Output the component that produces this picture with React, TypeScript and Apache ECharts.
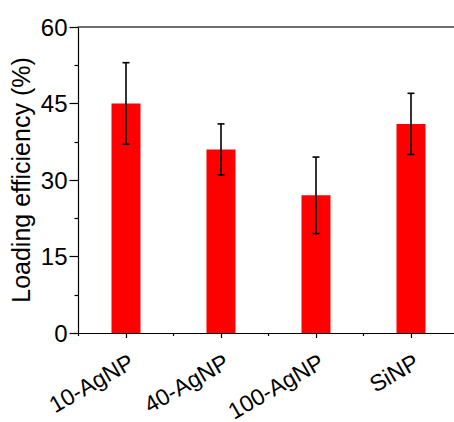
import React, { useEffect, useRef } from "react";
import * as echarts from "echarts";

const categories = ["10-AgNP", "40-AgNP", "100-AgNP", "SiNP"];
const values = [45, 36, 27, 41];
const errors = [8, 5, 7.5, 6];
const yTicks = { min: 0, max: 60, interval: 15 };

const FONT = "'Liberation Sans', Arial, sans-serif";

export default function App() {
  const ref = useRef<HTMLDivElement>(null);
  useEffect(() => {
    if (!ref.current) return;
    document.body.style.margin = "0";
    document.body.style.overflow = "hidden";
    const chart = echarts.init(ref.current, null, { renderer: "svg" });
    const errData = values.map((v, i) => [i, v - errors[i], v + errors[i]]);
    chart.setOption({
      animation: false,
      backgroundColor: "#ffffff",
      textStyle: { fontFamily: FONT },
      grid: {
        left: 78.5,
        top: 27,
        width: 380,
        bottom: 89,
        containLabel: false,
        outerBoundsMode: "none",
      },
      xAxis: [
        {
          type: "category",
          data: categories,
          position: "bottom",
          axisLine: { show: true, lineStyle: { color: "#000", width: 1.2 } },
          axisTick: { show: true, alignWithLabel: true, length: 5, lineStyle: { color: "#000", width: 1.2 } },
          axisLabel: {
            show: true,
            rotate: 30,
            margin: 17,
            align: "right",
            verticalAlign: "top",
            color: "#000",
            fontSize: 23,
            fontFamily: FONT,
            interval: 0,
          },
          splitLine: { show: false },
        },
        {
          type: "category",
          data: categories,
          position: "bottom",
          axisLine: { show: false },
          axisTick: { show: true, alignWithLabel: false, length: 3, lineStyle: { color: "#000", width: 1.2 } },
          axisLabel: { show: false },
          splitLine: { show: false },
        },
        {
          type: "category",
          data: categories,
          position: "top",
          axisLine: { show: true, lineStyle: { color: "#707070", width: 2 } },
          axisTick: { show: false },
          axisLabel: { show: false },
          splitLine: { show: false },
        },
      ],
      yAxis: {
        type: "value",
        min: yTicks.min,
        max: yTicks.max,
        interval: yTicks.interval,
        name: "Loading efficiency (%)",
        nameLocation: "middle",
        nameGap: 45,
        nameMoveOverlap: false,
        nameTextStyle: { fontSize: 25, color: "#000", fontFamily: FONT },
        axisLine: { show: true, lineStyle: { color: "#000", width: 1.2 } },
        axisTick: { show: true, inside: false, length: 9, lineStyle: { color: "#000", width: 1.2 } },
        minorTick: { show: true, splitNumber: 2, length: 4, lineStyle: { color: "#000", width: 1.2 } },
        axisLabel: { color: "#000", fontSize: 24, margin: 11, fontFamily: FONT },
        splitLine: { show: false },
        minorSplitLine: { show: false },
      },
      series: [
        {
          type: "bar",
          xAxisIndex: 0,
          data: values,
          barWidth: 29,
          itemStyle: { color: "#ff0000" },
        },
        {
          type: "custom",
          xAxisIndex: 0,
          yAxisIndex: 0,
          data: errData,
          z: 10,
          renderItem: (params: any, api: any) => {
            const x = api.value(0);
            const lo = api.coord([x, api.value(1)]);
            const hi = api.coord([x, api.value(2)]);
            const hw = 3.5;
            const style = { stroke: "#000", lineWidth: 1.6 };
            return {
              type: "group",
              children: [
                { type: "line", shape: { x1: hi[0], y1: hi[1], x2: lo[0], y2: lo[1] }, style },
                { type: "line", shape: { x1: hi[0] - hw, y1: hi[1], x2: hi[0] + hw, y2: hi[1] }, style },
                { type: "line", shape: { x1: lo[0] - hw, y1: lo[1], x2: lo[0] + hw, y2: lo[1] }, style },
              ],
            };
          },
        },
      ],
    });
    return () => chart.dispose();
  }, []);
  return (
    <div
      style={{ position: "fixed", left: 0, top: 0, width: 454, height: 422, overflow: "hidden", background: "#fff" }}
    >
      <div ref={ref} style={{ width: 454, height: 422 }} />
    </div>
  );
}
